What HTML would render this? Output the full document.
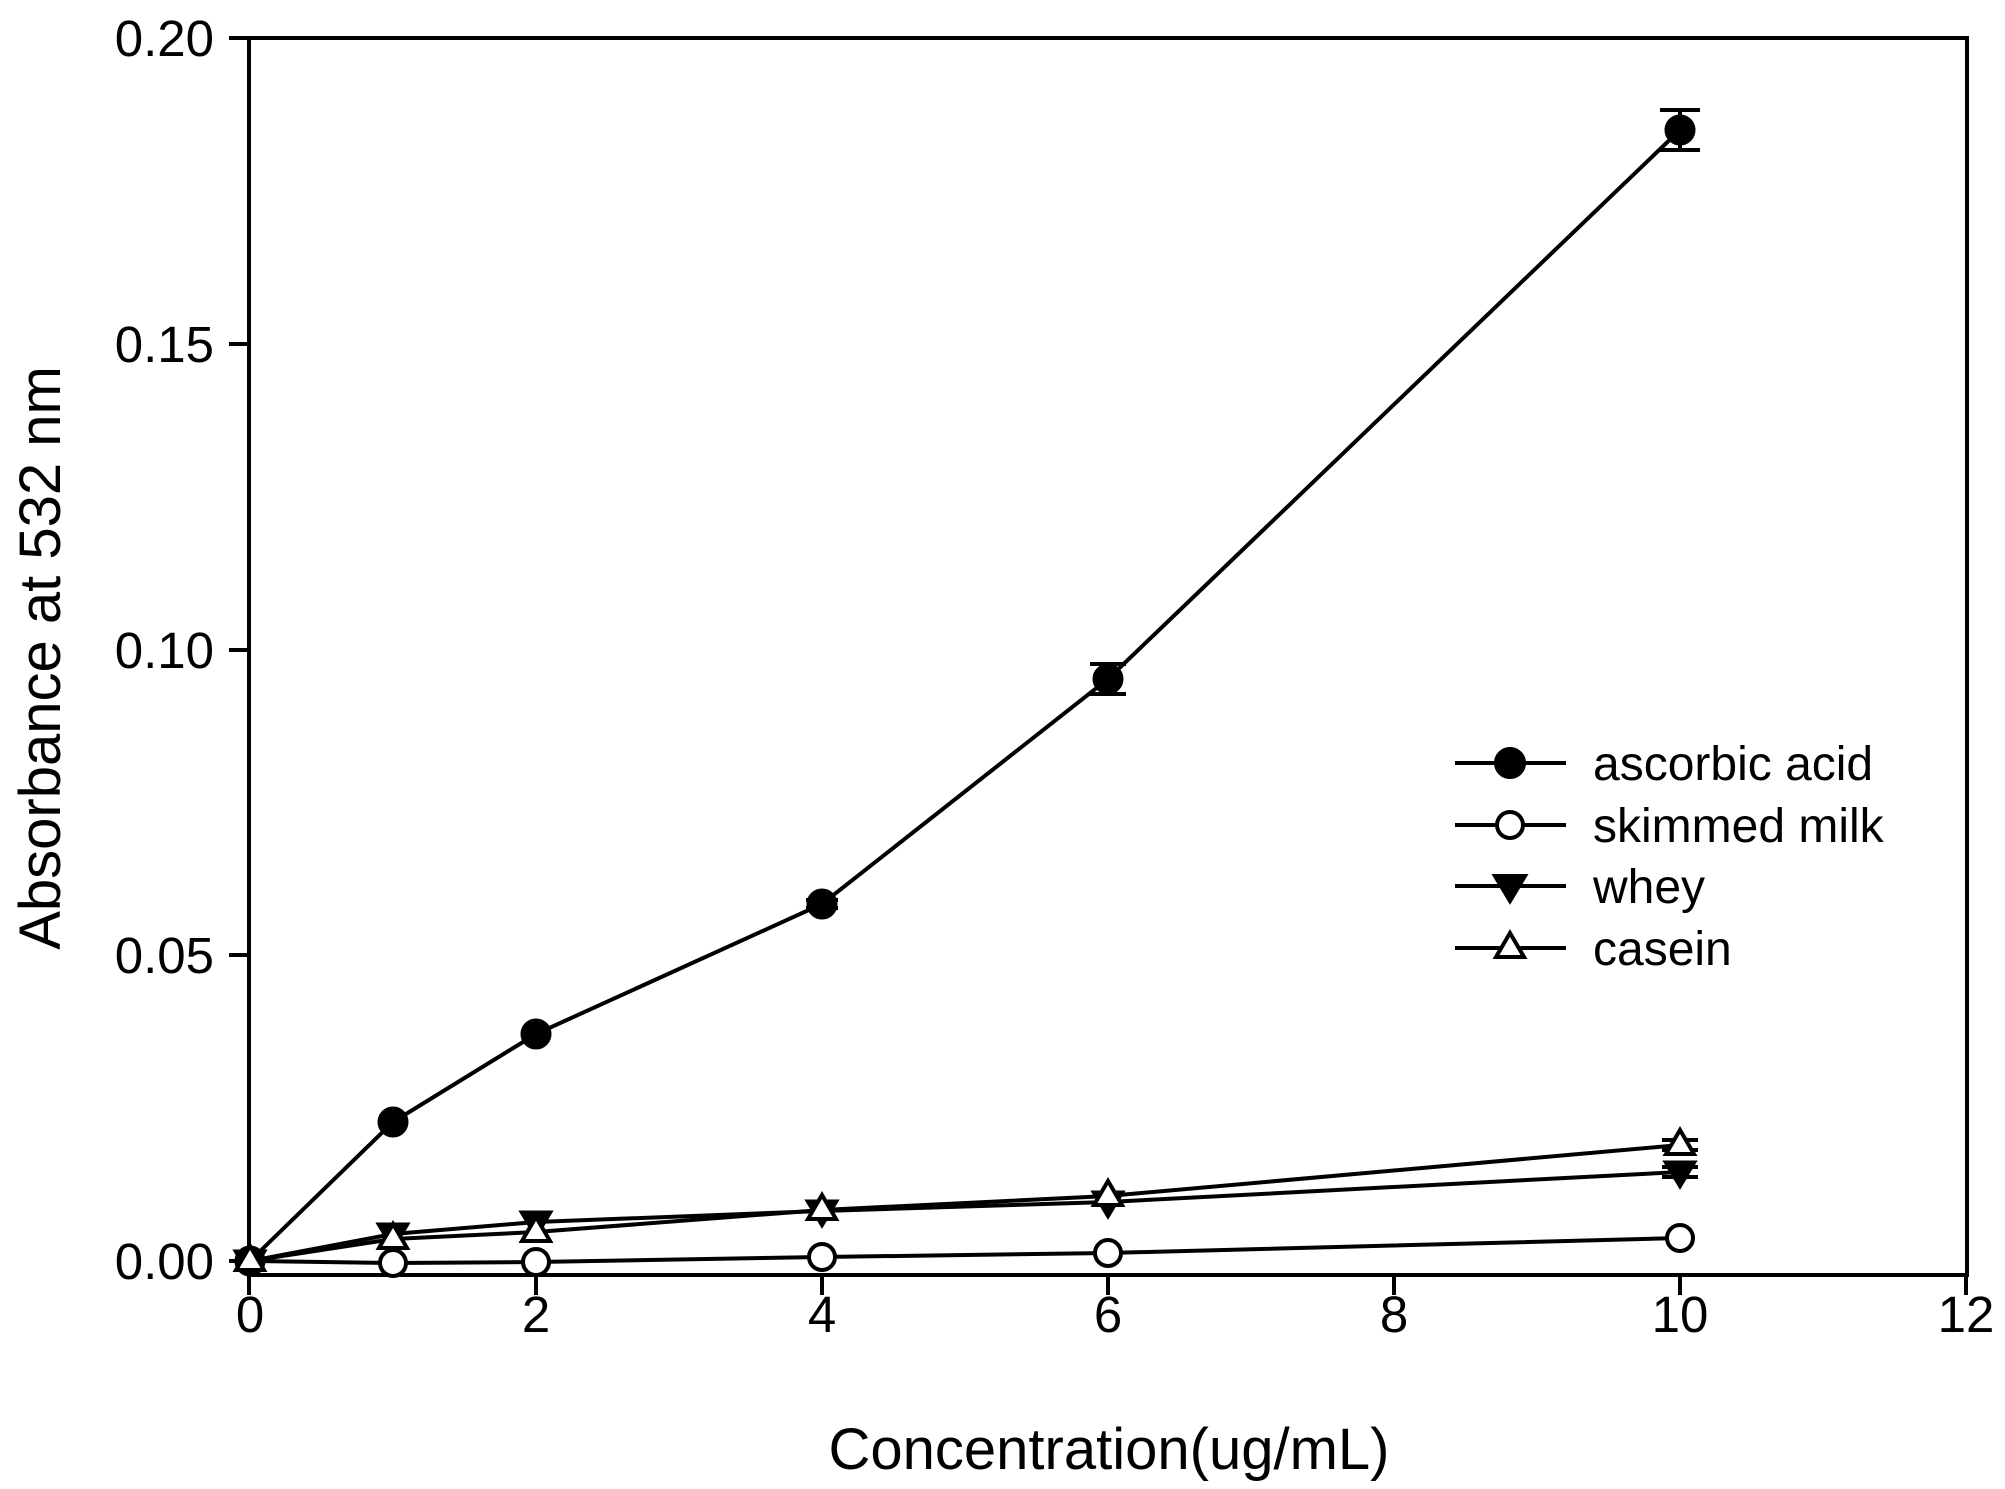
<!DOCTYPE html>
<html><head><style>body{margin:0;background:#fff}svg{display:block}</style></head><body>
<svg width="2005" height="1489" viewBox="0 0 2005 1489" xmlns="http://www.w3.org/2000/svg" font-family="Liberation Sans, Arial, sans-serif">
<rect width="2005" height="1489" fill="#fff"/>
<g stroke="#000" stroke-width="4" fill="none">
<rect x="249" y="38" width="1718" height="1237"/>
<path d="M249 1275v20M536 1275v20M822 1275v20M1108 1275v20M1394 1275v20M1680 1275v20M1966 1275v20"/>
<path d="M249 1261h-20M249 955h-20M249 650h-20M249 344h-20M249 38h-20"/>
</g>
<g font-size="51" text-anchor="end" fill="#000">
<text x="214" y="1279">0.00</text><text x="214" y="973">0.05</text><text x="214" y="668">0.10</text><text x="214" y="362">0.15</text><text x="214" y="56">0.20</text>
</g>
<g font-size="51" text-anchor="middle" fill="#000">
<text x="250" y="1332">0</text><text x="536" y="1332">2</text><text x="822" y="1332">4</text><text x="1108" y="1332">6</text><text x="1394" y="1332">8</text><text x="1680" y="1332">10</text><text x="1966" y="1332">12</text>
</g>
<text x="1109" y="1469" font-size="58" text-anchor="middle">Concentration(ug/mL)</text>
<text transform="translate(60,658) rotate(-90)" font-size="58" text-anchor="middle">Absorbance at 532 nm</text>
<g stroke="#000" stroke-width="4" fill="none">
<polyline points="250,1261 393,1122 536,1034 822,904 1108,679 1680,130"/>
<polyline points="250,1261 393,1263 536,1262 822,1257 1108,1253 1680,1238"/>
<polyline points="250,1261 393,1234 536,1222 822,1211 1108,1202 1680,1172"/>
<polyline points="250,1261 393,1239 536,1232 822,1210 1108,1196 1680,1145"/>
<path d="M1680 110v40M1660 110h40M1660 150h40M1108 664v30M1090 664h36M1090 694h36M822 900v8M806 900h32M806 908h32M1680 1140v10M1662 1140h36M1662 1150h36M1680 1167v10M1662 1167h36M1662 1177h36"/>
</g>
<g fill="#000" stroke="#000" stroke-width="3">
<circle cx="250" cy="1261" r="14"/><circle cx="393" cy="1122" r="14"/><circle cx="536" cy="1034" r="14"/><circle cx="822" cy="904" r="14"/><circle cx="1108" cy="679" r="14"/><circle cx="1680" cy="130" r="14"/>
<polygon points="235,1251 265,1251 250,1276"/><polygon points="378,1224 408,1224 393,1249"/><polygon points="521,1212 551,1212 536,1237"/><polygon points="807,1201 837,1201 822,1226"/><polygon points="1093,1192 1123,1192 1108,1217"/><polygon points="1665,1162 1695,1162 1680,1187"/>
</g>
<g fill="#fff" stroke="#000" stroke-width="4">
<circle cx="393" cy="1263" r="13"/><circle cx="536" cy="1262" r="13"/><circle cx="822" cy="1257" r="13"/><circle cx="1108" cy="1253" r="13"/><circle cx="1680" cy="1238" r="13"/>
<polygon points="250,1246 236,1270 264,1270"/><polygon points="393,1224 379,1248 407,1248"/><polygon points="536,1217 522,1241 550,1241"/><polygon points="822,1195 808,1219 836,1219"/><polygon points="1108,1181 1094,1205 1122,1205"/><polygon points="1680,1130 1666,1154 1694,1154"/>
</g>
<g stroke="#000" stroke-width="4">
<path d="M1455 763h111M1455 825h111M1455 886h111M1455 948h111"/>
<circle cx="1510" cy="763" r="14" fill="#000"/>
<circle cx="1510" cy="825" r="13" fill="#fff"/>
<polygon points="1495,876 1525,876 1510,901" fill="#000"/>
<polygon points="1510,933 1496,957 1524,957" fill="#fff"/>
</g>
<g font-size="48" fill="#000">
<text x="1593" y="780">ascorbic acid</text><text x="1593" y="842">skimmed milk</text><text x="1593" y="903">whey</text><text x="1593" y="965">casein</text>
</g>
</svg>
</body></html>
